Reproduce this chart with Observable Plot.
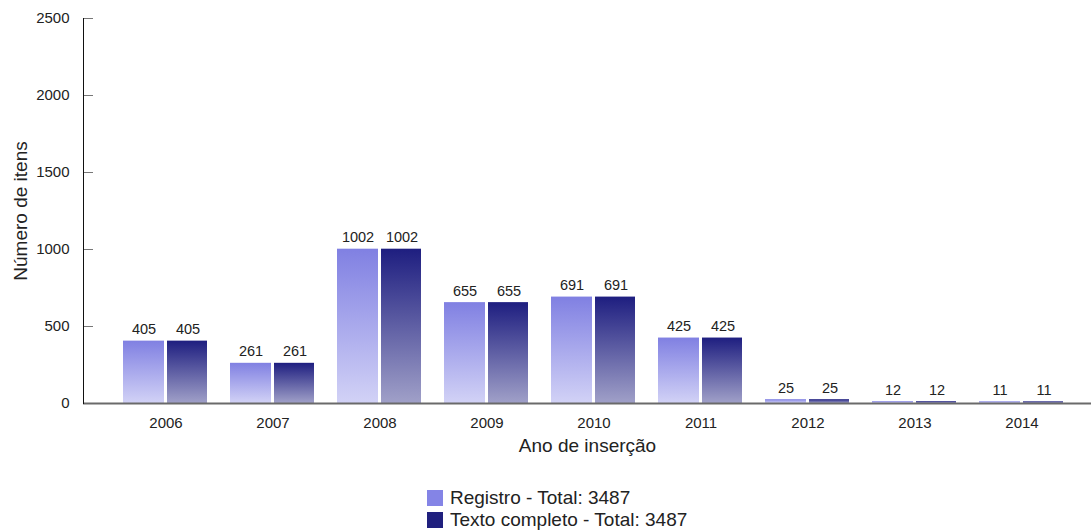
<!DOCTYPE html>
<html><head><meta charset="utf-8">
<script src="https://cdn.jsdelivr.net/npm/d3@7"></script>
<script src="https://cdn.jsdelivr.net/npm/@observablehq/plot@0.6"></script>
<style>
body{margin:0;background:#fff;font-family:"Liberation Sans",Arial,sans-serif;}
#legend{position:relative;height:50px;}
.row{position:absolute;left:427px;display:flex;align-items:center;font-size:19px;line-height:22px;color:#222;}
.sw{width:16px;height:16px;margin-right:7px;}
</style></head><body>
<div id="chart"></div>
<div id="legend"></div>
<script>
const years = ["2006","2007","2008","2009","2010","2011","2012","2013","2014"];
const registro = [405,261,1002,655,691,425,25,12,11];
const textoCompleto = [405,261,1002,655,691,425,25,12,11];
const seriesNames = ["Registro - Total: 3487","Texto completo - Total: 3487"];
const yTicks = [0,500,1000,1500,2000,2500];

const dataReg = years.map((y,i)=>({year:y,value:registro[i]}));
const dataTxt = years.map((y,i)=>({year:y,value:textoCompleto[i]}));

const W = 1091;
const plot = Plot.plot({
  width:W, height:480,
  marginLeft:83, marginRight:0, marginTop:18, marginBottom:77,
  style:{fontFamily:"Liberation Sans, Arial, sans-serif", background:"#fff"},
  x:{domain:years, paddingInner:0.21, paddingOuter:0.2975, align:0.594},
  y:{domain:[0,2500]},
  marks:[
    Plot.gridY(yTicks,{insetRight:W-83-10,stroke:"#777",strokeOpacity:1}),
    Plot.barY(dataReg,{x:"year",y:"value",fill:"url(#gReg)",insetRight:44,insetLeft:0}),
    Plot.barY(dataTxt,{x:"year",y:"value",fill:"url(#gTxt)",insetLeft:44,insetRight:1}),
    Plot.text(dataReg,{x:"year",y:"value",text:d=>String(d.value),dx:-22,dy:-7,lineAnchor:"bottom",fontSize:14.5,fill:"#222"}),
    Plot.text(dataTxt,{x:"year",y:"value",text:d=>String(d.value),dx:22,dy:-7,lineAnchor:"bottom",fontSize:14.5,fill:"#222"}),
    Plot.ruleY([0],{stroke:"#6a6a6a",strokeWidth:2}),
    Plot.axisY({ticks:yTicks,tickSize:0,tickPadding:14,tickFormat:d3.format("d"),fontSize:15,label:"Número de itens",labelAnchor:"center",labelArrow:"none",labelOffset:70,color:"#222"}),
    Plot.axisX({tickSize:0,tickPadding:14,fontSize:15,label:"Ano de inserção",labelAnchor:"center",labelArrow:"none",labelOffset:48,color:"#222"}),
    Plot.frame({anchor:"left",stroke:"#111"})
  ]
});
const svg = d3.select(plot);
const defs = svg.insert("defs",":first-child");
function grad(id,top,bottom){
  const g = defs.append("linearGradient").attr("id",id).attr("x1",0).attr("y1",0).attr("x2",0).attr("y2",1);
  g.append("stop").attr("offset","0%").attr("stop-color",top);
  g.append("stop").attr("offset","100%").attr("stop-color",bottom);
}
grad("gReg","#8080e2","#d2d2f6");
grad("gTxt","#1e1e80","#a0a0c8");
svg.selectAll("g[aria-label='y-axis label'] text, g[aria-label='x-axis label'] text").style("font-size","19px");
document.getElementById("chart").appendChild(plot);

const legendColors = ["#8484e6","#20207e"];
const leg = d3.select("#legend");
seriesNames.forEach((s,i)=>{
  const r = leg.append("div").attr("class","row").style("top",(i*22+7)+"px");
  r.append("div").attr("class","sw").style("background",legendColors[i]);
  r.append("span").text(s);
});
</script></body></html>
